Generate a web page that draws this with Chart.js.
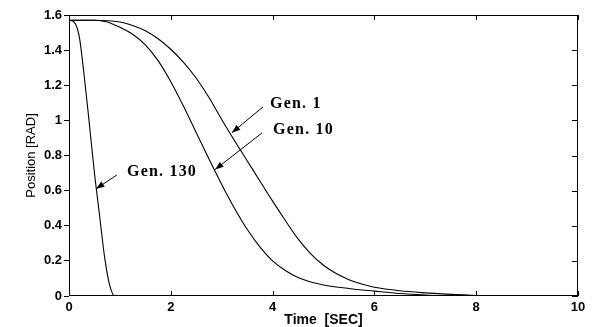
<!DOCTYPE html>
<html>
<head>
<meta charset="utf-8">
<script src="https://cdn.jsdelivr.net/npm/chart.js@4/dist/chart.umd.min.js"></script>
<style>
  html, body { margin: 0; padding: 0; background: #fff; }
  #wrap { width: 592px; height: 327px; }
</style>
</head>
<body>
<div id="wrap"><canvas id="chart"></canvas></div>
<script>
// values (time in sec, position in rad)
const gen1Time = [0, 0.5, 1, 1.25, 1.5, 1.75, 2, 2.25, 2.5, 2.75, 3, 3.25, 3.5, 3.75, 4, 4.25, 4.5, 4.75, 5, 5.25, 5.5, 5.75, 6, 6.5, 7, 7.5, 8, 8.5, 10];
const gen1Pos = [1.57, 1.57, 1.56, 1.54, 1.51, 1.465, 1.405, 1.33, 1.24, 1.13, 1.005, 0.885, 0.77, 0.655, 0.54, 0.43, 0.325, 0.24, 0.175, 0.128, 0.093, 0.068, 0.05, 0.03, 0.018, 0.009, 0.003, 0, 0];

const gen10Time = [0, 0.5, 0.75, 1, 1.25, 1.5, 1.75, 2, 2.25, 2.5, 2.75, 3, 3.25, 3.5, 3.75, 4, 4.25, 4.5, 4.75, 5, 5.5, 6, 6.5, 7, 7.5, 10];
const gen10Pos = [1.57, 1.57, 1.56, 1.53, 1.49, 1.43, 1.34, 1.22, 1.08, 0.93, 0.78, 0.635, 0.50, 0.38, 0.28, 0.20, 0.145, 0.105, 0.08, 0.063, 0.043, 0.028, 0.014, 0.005, 0, 0];

const gen130Time = [0, 0.1, 0.2, 0.3, 0.4, 0.5, 0.6, 0.7, 0.8, 0.9, 10];
const gen130Pos = [1.57, 1.56, 1.48, 1.25, 0.98, 0.70, 0.46, 0.22, 0.06, 0, 0];

const xTicks = [0, 2, 4, 6, 8, 10];
const yTicks = [0, 0.2, 0.4, 0.6, 0.8, 1, 1.2, 1.4, 1.6];

// labels with arrows, in data units
const notes = [
  { text: 'Gen. 1', tx: 3.95, ty: 1.093, fx: 3.81, fy: 1.076, px: 3.2, py: 0.93 },
  { text: 'Gen. 10', tx: 4.01, ty: 0.945, fx: 3.79, fy: 0.928, px: 2.87, py: 0.72 },
  { text: 'Gen. 130', tx: 1.14, ty: 0.706, fx: 0.94, fy: 0.689, px: 0.53, py: 0.61 }
];

const toXY = (xs, ys) => xs.map((x, i) => ({ x: x, y: ys[i] }));

const line = (label, data) => ({
  label: label,
  data: data,
  borderColor: '#000',
  borderWidth: 1.1,
  pointRadius: 0,
  fill: false,
  cubicInterpolationMode: 'monotone'
});

// box, inside ticks on bottom/top/right, annotations
const boxPlugin = {
  id: 'box',
  afterDatasetsDraw(chart) {
    const { ctx, chartArea: a, scales: { x, y } } = chart;
    ctx.save();
    ctx.strokeStyle = '#000';
    ctx.lineWidth = 1;
    ctx.strokeRect(a.left + 0.5, a.top + 0.5, a.right - a.left - 1, a.bottom - a.top - 1);
    ctx.beginPath();
    xTicks.forEach(v => {
      const px = Math.round(x.getPixelForValue(v)) + 0.5;
      ctx.moveTo(px, a.bottom); ctx.lineTo(px, a.bottom - 5);
      ctx.moveTo(px, a.top); ctx.lineTo(px, a.top + 5);
    });
    yTicks.forEach(v => {
      const py = Math.round(y.getPixelForValue(v)) + 0.5;
      ctx.moveTo(a.right, py); ctx.lineTo(a.right - 6, py);
    });
    ctx.stroke();

    ctx.fillStyle = '#000';
    ctx.font = 'bold 16px "Liberation Serif"';
    ctx.letterSpacing = '1.2px';
    ctx.textBaseline = 'middle';
    notes.forEach(n => {
      ctx.fillText(n.text, x.getPixelForValue(n.tx), y.getPixelForValue(n.ty));
      const x0 = x.getPixelForValue(n.fx), y0 = y.getPixelForValue(n.fy);
      const x1 = x.getPixelForValue(n.px), y1 = y.getPixelForValue(n.py);
      const ang = Math.atan2(y1 - y0, x1 - x0);
      ctx.beginPath();
      ctx.moveTo(x0, y0); ctx.lineTo(x1, y1);
      ctx.stroke();
      ctx.beginPath();
      ctx.moveTo(x1, y1);
      ctx.lineTo(x1 - 9 * Math.cos(ang - 0.35), y1 - 9 * Math.sin(ang - 0.35));
      ctx.lineTo(x1 - 9 * Math.cos(ang + 0.35), y1 - 9 * Math.sin(ang + 0.35));
      ctx.closePath();
      ctx.fill();
    });
    ctx.restore();
  }
};

new Chart(document.querySelector('#chart'), {
  type: 'line',
  data: {
    datasets: [
      line('Gen. 1', toXY(gen1Time, gen1Pos)),
      line('Gen. 10', toXY(gen10Time, gen10Pos)),
      line('Gen. 130', toXY(gen130Time, gen130Pos))
    ]
  },
  options: {
    responsive: true,
    maintainAspectRatio: false,
    animation: false,
    layout: { padding: { top: 15, right: 14, left: 0, bottom: 0 } },
    plugins: { legend: { display: false }, tooltip: { enabled: false } },
    scales: {
      x: {
        type: 'linear',
        min: 0,
        max: 10,
        afterBuildTicks: s => { s.ticks = xTicks.map(v => ({ value: v })); },
        afterFit: s => { s.height = 31; },
        grid: { display: false, drawTicks: false },
        border: { display: false },
        ticks: { color: '#000', padding: 4, callback: v => String(v), font: { family: 'Liberation Sans', size: 13, weight: 'bold' } },
        title: {
          display: true,
          text: 'Time  [SEC]',
          color: '#000',
          padding: 0,
          font: { family: 'Liberation Sans', size: 14, weight: 'bold', lineHeight: 1 }
        }
      },
      y: {
        min: 0,
        max: 1.6,
        afterBuildTicks: s => { s.ticks = yTicks.map(v => ({ value: v })); },
        afterFit: s => { s.width = 69; },
        grid: { drawOnChartArea: false, tickLength: 5, color: '#000' },
        border: { display: false },
        ticks: { color: '#000', padding: 2, callback: v => String(v), font: { family: 'Liberation Sans', size: 13, weight: 'bold' } },
        title: {
          display: true,
          text: 'Position [RAD]',
          color: '#000',
          padding: { top: 25, bottom: 0 },
          font: { family: 'Liberation Sans', size: 13, lineHeight: 1 }
        }
      }
    }
  },
  plugins: [boxPlugin]
});
</script>
</body>
</html>
